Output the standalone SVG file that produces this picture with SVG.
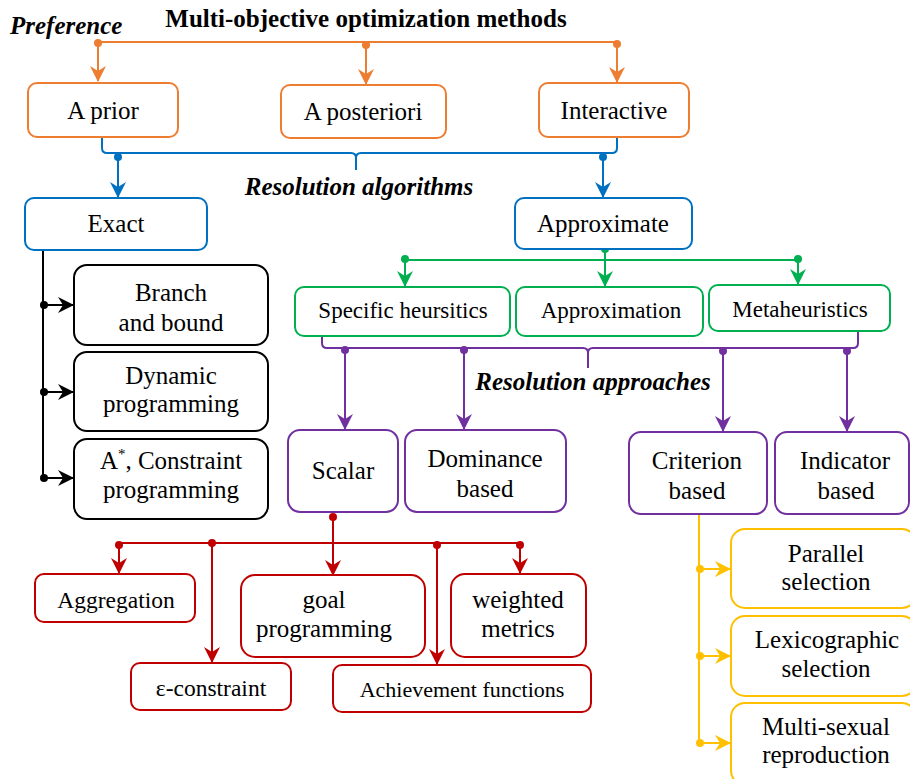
<svg xmlns="http://www.w3.org/2000/svg" width="910" height="779" viewBox="0 0 910 779" font-family="Liberation Serif">
<style>
text{font-family:'Liberation Serif',serif;fill:#000;}
.t{font-size:25px;text-anchor:middle;}
.g{font-size:23px;text-anchor:middle;}
.s{font-size:23.5px;text-anchor:middle;}
.h{font-size:25px;font-weight:bold;}
.hi{font-size:25px;font-weight:bold;font-style:italic;}
.box{fill:#fff;stroke-width:2;}
.or{stroke:#ED7D31;}.bl{stroke:#0070C0;}.gr{stroke:#00B050;}.pu{stroke:#7030A0;}.rd{stroke:#C00000;}.ye{stroke:#FFC000;}.bk{stroke:#000;}
.ln{fill:none;stroke-width:2;}
</style>
<defs>
<marker id="aor" markerUnits="userSpaceOnUse" markerWidth="16" markerHeight="16" viewBox="0 0 16 16" refX="15" refY="8" orient="auto"><path d="M0,0 L16,8 L0,16 L5,8 z" fill="#ED7D31"/></marker>
<marker id="abl" markerUnits="userSpaceOnUse" markerWidth="16" markerHeight="16" viewBox="0 0 16 16" refX="15" refY="8" orient="auto"><path d="M0,0 L16,8 L0,16 L5,8 z" fill="#0070C0"/></marker>
<marker id="agr" markerUnits="userSpaceOnUse" markerWidth="16" markerHeight="16" viewBox="0 0 16 16" refX="15" refY="8" orient="auto"><path d="M0,0 L16,8 L0,16 L5,8 z" fill="#00B050"/></marker>
<marker id="apu" markerUnits="userSpaceOnUse" markerWidth="16" markerHeight="16" viewBox="0 0 16 16" refX="15" refY="8" orient="auto"><path d="M0,0 L16,8 L0,16 L5,8 z" fill="#7030A0"/></marker>
<marker id="ard" markerUnits="userSpaceOnUse" markerWidth="16" markerHeight="16" viewBox="0 0 16 16" refX="15" refY="8" orient="auto"><path d="M0,0 L16,8 L0,16 L5,8 z" fill="#C00000"/></marker>
<marker id="aye" markerUnits="userSpaceOnUse" markerWidth="16" markerHeight="16" viewBox="0 0 16 16" refX="15" refY="8" orient="auto"><path d="M0,0 L16,8 L0,16 L5,8 z" fill="#FFC000"/></marker>
<marker id="abk" markerUnits="userSpaceOnUse" markerWidth="16" markerHeight="16" viewBox="0 0 16 16" refX="15" refY="8" orient="auto"><path d="M0,0 L16,8 L0,16 L5,8 z" fill="#000"/></marker>
</defs>

<g id="labels">
<text class="h" x="366" y="27" text-anchor="middle" font-family="Liberation Serif" style="font-family:'Liberation Serif',serif">Multi-objective optimization methods</text>
<text class="hi" x="10" y="34" font-family="Liberation Serif" style="font-family:'Liberation Serif',serif">Preference</text>
<text class="hi" x="359" y="195" text-anchor="middle" font-family="Liberation Serif" style="font-family:'Liberation Serif',serif">Resolution algorithms</text>
<text class="hi" x="593" y="390" text-anchor="middle" font-family="Liberation Serif" style="font-family:'Liberation Serif',serif">Resolution approaches</text>
</g>

<g id="connectors">
<path class="ln or" d="M98,42 H617"/>
<path class="ln or" d="M98,42 V81" marker-end="url(#aor)"/>
<path class="ln or" d="M366,42 V84" marker-end="url(#aor)"/>
<path class="ln or" d="M617,42 V82" marker-end="url(#aor)"/>
<g fill="#ED7D31"><circle cx="98" cy="43" r="4"/><circle cx="366" cy="45" r="4"/><circle cx="617" cy="44" r="4"/></g>
<path class="ln bl" d="M102,138 V148 Q102,153 107,153 H351 Q356,153 356,158 V170 M356,158 Q356,153 361,153 H612 Q617,153 617,148 V138"/>
<path class="ln bl" d="M118,155 V197" marker-end="url(#abl)"/>
<path class="ln bl" d="M603,155 V197" marker-end="url(#abl)"/>
<g fill="#0070C0"><circle cx="118" cy="157" r="4"/><circle cx="603" cy="157" r="4"/></g>
<path class="ln bk" d="M43,250 V478"/>
<path class="ln bk" d="M43,305 H73" marker-end="url(#abk)"/>
<path class="ln bk" d="M43,392 H73" marker-end="url(#abk)"/>
<path class="ln bk" d="M43,478 H73" marker-end="url(#abk)"/>
<g fill="#000"><circle cx="44" cy="305" r="4"/><circle cx="44" cy="392" r="4"/><circle cx="44" cy="478" r="4"/></g>
<path class="ln gr" d="M405,260 H798"/>
<path class="ln gr" d="M605,249 V286" marker-end="url(#agr)"/>
<path class="ln gr" d="M405,260 V286" marker-end="url(#agr)"/>
<path class="ln gr" d="M798,260 V284" marker-end="url(#agr)"/>
<g fill="#00B050"><circle cx="605" cy="249" r="4"/><circle cx="405" cy="259" r="4"/><circle cx="798" cy="259" r="4"/></g>
<path class="ln pu" d="M322,336 V343 Q322,348 327,348 H583 Q588,348 588,353 V368 M588,353 Q588,348 593,348 H853 Q858,348 858,343 V331"/>
<path class="ln pu" d="M345,350 V429" marker-end="url(#apu)"/>
<path class="ln pu" d="M464,350 V429" marker-end="url(#apu)"/>
<path class="ln pu" d="M723,350 V431" marker-end="url(#apu)"/>
<path class="ln pu" d="M847,350 V431" marker-end="url(#apu)"/>
<g fill="#7030A0"><circle cx="345" cy="350" r="4"/><circle cx="464" cy="350" r="4"/><circle cx="723" cy="351" r="4"/><circle cx="847" cy="351" r="4"/></g>
<path class="ln rd" d="M119,543 H520"/>
<path class="ln rd" d="M333,517 V575" marker-end="url(#ard)"/>
<path class="ln rd" d="M119,545 V573" marker-end="url(#ard)"/>
<path class="ln rd" d="M212,543 V662" marker-end="url(#ard)"/>
<path class="ln rd" d="M437,545 V664" marker-end="url(#ard)"/>
<path class="ln rd" d="M520,545 V573" marker-end="url(#ard)"/>
<g fill="#C00000"><circle cx="333" cy="517" r="4"/><circle cx="119" cy="545" r="4"/><circle cx="212" cy="543" r="4"/><circle cx="437" cy="545" r="4"/><circle cx="520" cy="545" r="4"/></g>
<path class="ln ye" d="M699,514 V743"/>
<path class="ln ye" d="M699,569 H730" marker-end="url(#aye)"/>
<path class="ln ye" d="M699,656 H730" marker-end="url(#aye)"/>
<path class="ln ye" d="M699,743 H730" marker-end="url(#aye)"/>
<g fill="#FFC000"><circle cx="700" cy="569" r="4"/><circle cx="700" cy="656" r="4"/><circle cx="700" cy="743" r="4"/></g>
</g>

<g id="n-aprior" font-family="Liberation Serif"><rect class="box or" x="28" y="83" width="150" height="54" rx="9"/><text class="t" x="103" y="119" style="font-family:'Liberation Serif',serif">A prior</text></g>
<g id="n-aposteriori" font-family="Liberation Serif"><rect class="box or" x="281" y="85" width="165" height="53" rx="9"/><text class="t" x="363" y="120" style="font-family:'Liberation Serif',serif">A posteriori</text></g>
<g id="n-interactive" font-family="Liberation Serif"><rect class="box or" x="539" y="83" width="150" height="54" rx="9"/><text class="t" x="614" y="119" style="font-family:'Liberation Serif',serif">Interactive</text></g>

<g id="n-exact" font-family="Liberation Serif"><rect class="box bl" x="25" y="198" width="182" height="52" rx="9"/><text class="t" x="116" y="232" style="font-family:'Liberation Serif',serif">Exact</text></g>
<g id="n-approximate" font-family="Liberation Serif"><rect class="box bl" x="515" y="198" width="177" height="51" rx="9"/><text class="t" x="603" y="232" style="font-family:'Liberation Serif',serif">Approximate</text></g>

<g id="n-branch" font-family="Liberation Serif"><rect class="box bk" x="74" y="265" width="194" height="80" rx="13"/><text class="t" x="171" y="301" style="font-family:'Liberation Serif',serif">Branch</text><text class="t" x="171" y="331" style="font-family:'Liberation Serif',serif">and bound</text></g>
<g id="n-dynamic" font-family="Liberation Serif"><rect class="box bk" x="74" y="352" width="194" height="79" rx="13"/><text class="t" x="171" y="384" style="font-family:'Liberation Serif',serif">Dynamic</text><text class="t" x="171" y="412" style="font-family:'Liberation Serif',serif">programming</text></g>
<g id="n-astar" font-family="Liberation Serif"><rect class="box bk" x="74" y="439" width="194" height="80" rx="13"/><text class="t" x="171" y="469" style="font-family:'Liberation Serif',serif">A<tspan font-size="15" dy="-10">*</tspan><tspan dy="10">, Constraint</tspan></text><text class="t" x="171" y="498" style="font-family:'Liberation Serif',serif">programming</text></g>

<g id="n-specific" font-family="Liberation Serif"><rect class="box gr" x="295" y="287" width="215" height="49" rx="9"/><text class="g" x="403" y="318" style="font-family:'Liberation Serif',serif">Specific heursitics</text></g>
<g id="n-approximation" font-family="Liberation Serif"><rect class="box gr" x="516" y="287" width="187" height="49" rx="9"/><text class="g" x="611" y="318" style="font-family:'Liberation Serif',serif">Approximation</text></g>
<g id="n-metaheuristics" font-family="Liberation Serif"><rect class="box gr" x="709" y="285" width="181" height="46" rx="9"/><text class="g" x="800" y="317" style="font-family:'Liberation Serif',serif">Metaheuristics</text></g>

<g id="n-scalar" font-family="Liberation Serif"><rect class="box pu" x="288" y="430" width="110" height="82" rx="12"/><text class="t" x="343" y="479" style="font-family:'Liberation Serif',serif">Scalar</text></g>
<g id="n-dominance" font-family="Liberation Serif"><rect class="box pu" x="405" y="430" width="161" height="82" rx="12"/><text class="t" x="485" y="467" style="font-family:'Liberation Serif',serif">Dominance</text><text class="t" x="485" y="497" style="font-family:'Liberation Serif',serif">based</text></g>
<g id="n-criterion" font-family="Liberation Serif"><rect class="box pu" x="629" y="432" width="138" height="82" rx="12"/><text class="t" x="697" y="469" style="font-family:'Liberation Serif',serif">Criterion</text><text class="t" x="697" y="499" style="font-family:'Liberation Serif',serif">based</text></g>
<g id="n-indicator" font-family="Liberation Serif"><rect class="box pu" x="775" y="432" width="134" height="82" rx="12"/><text class="t" x="845" y="469" style="font-family:'Liberation Serif',serif">Indicator</text><text class="t" x="846" y="499" style="font-family:'Liberation Serif',serif">based</text></g>

<g id="n-aggregation" font-family="Liberation Serif"><rect class="box rd" x="35" y="574" width="160" height="48" rx="9"/><text class="s" x="116" y="608" style="font-family:'Liberation Serif',serif">Aggregation</text></g>
<g id="n-goal" font-family="Liberation Serif"><rect class="box rd" x="241" y="575" width="184" height="82" rx="14"/><text class="t" x="324" y="608" style="font-family:'Liberation Serif',serif">goal</text><text class="t" x="324" y="637" style="font-family:'Liberation Serif',serif">programming</text></g>
<g id="n-weighted" font-family="Liberation Serif"><rect class="box rd" x="451" y="574" width="135" height="83" rx="14"/><text class="t" x="518" y="608" style="font-family:'Liberation Serif',serif">weighted</text><text class="t" x="518" y="637" style="font-family:'Liberation Serif',serif">metrics</text></g>
<g id="n-epsilon" font-family="Liberation Serif"><rect class="box rd" x="131" y="663" width="160" height="47" rx="9"/><text class="s" x="211" y="696" style="font-family:'Liberation Serif',serif">ε-constraint</text></g>
<g id="n-achievement" font-family="Liberation Serif"><rect class="box rd" x="333" y="665" width="258" height="47" rx="9"/><text class="t" x="462" y="697" style="font-family:'Liberation Serif',serif;font-size:22px">Achievement functions</text></g>

<g id="n-parallel" font-family="Liberation Serif"><rect class="box ye" x="731" y="529" width="185" height="79" rx="14"/><text class="t" x="826" y="562" style="font-family:'Liberation Serif',serif">Parallel</text><text class="t" x="826" y="590" style="font-family:'Liberation Serif',serif">selection</text></g>
<g id="n-lexicographic" font-family="Liberation Serif"><rect class="box ye" x="731" y="616" width="185" height="80" rx="14"/><text class="t" x="827" y="648" style="font-family:'Liberation Serif',serif">Lexicographic</text><text class="t" x="826" y="677" style="font-family:'Liberation Serif',serif">selection</text></g>
<g id="n-multisexual" font-family="Liberation Serif"><rect class="box ye" x="731" y="703" width="185" height="82" rx="14"/><text class="t" x="826" y="735" style="font-family:'Liberation Serif',serif">Multi-sexual</text><text class="t" x="826" y="763" style="font-family:'Liberation Serif',serif">reproduction</text></g>
</svg>
